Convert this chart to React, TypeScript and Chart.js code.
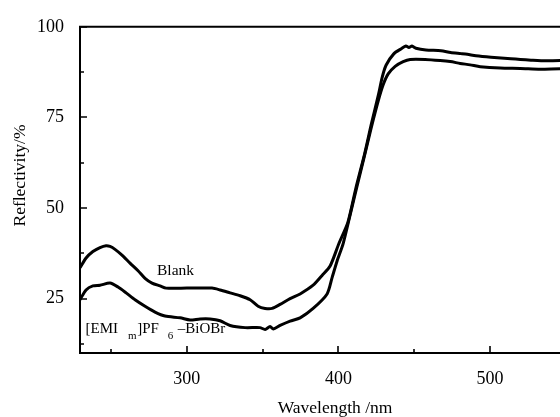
import React, { useEffect, useRef } from "react";
import { Chart, registerables } from "chart.js";

Chart.register(...registerables);

// ---- data ----
const blankWavelength = [
  229.5, 233.5, 238, 242.7, 246.7, 249.3, 252.6, 257.2, 262.5, 267.8, 272.4, 277, 282.3, 286.3, 300, 316.6,
  321.9, 328.5, 335.1, 341.7, 347, 351.6, 356.2, 361.5, 368.1, 374.7, 383.3, 389.2, 394.5, 400.3, 406.2,
  411.5, 417.3, 421.6, 426.5, 428.8, 431.4, 436.6, 441.2, 444.5, 446.5, 448.5, 451.1, 457.7, 467.6, 474,
  480.8, 485, 490.7, 500.6, 513.8, 520, 527, 536.9, 546.8, 553, 560,
];
const blankReflectivity = [
  33.5, 36.2, 38.0, 39.1, 39.6, 39.4, 38.6, 37.0, 34.8, 32.7, 30.6, 29.3, 28.5, 27.9, 27.9, 27.9,
  27.4, 26.6, 25.8, 24.7, 22.9, 22.3, 22.3, 23.4, 25.0, 26.3, 28.7, 31.4, 34.0, 40.2, 46.0,
  55.5, 65.0, 73.0, 81.5, 86.0, 89.4, 92.6, 93.9, 94.7, 94.3, 94.7, 94.1, 93.6, 93.4, 92.9,
  92.6, 92.4, 92.0, 91.6, 91.2, 91.0, 90.8, 90.6, 90.7, 90.4, 90.6,
];
const emiWavelength = [
  229.5, 233.5, 238, 242.7, 249.3, 254.6, 259.9, 265.8, 272.4, 279, 285.6, 295.5, 302.1, 308.7, 315.3,
  321.9, 328.5, 338.4, 348.2, 351.6, 354.9, 357, 361.5, 368.1, 374.7, 383.3, 392.5, 395.8, 399.1, 403.1,
  407.7, 412.3, 417, 421.6, 426.2, 429.5, 432.8, 437.4, 442.7, 447.3, 457.2, 467.1, 473.7, 480.3, 486.9,
  493.5, 506.7, 519.9, 533.1, 546.3, 559.5,
];
const emiReflectivity = [
  24.7, 27.4, 28.5, 28.7, 29.3, 28.2, 26.6, 24.7, 22.9, 21.3, 20.2, 19.7, 19.1, 19.4, 19.4,
  18.9, 17.6, 17.0, 17.0, 16.5, 17.3, 16.6, 17.6, 18.8, 19.7, 22.3, 26.3, 30.8, 35.4, 40.2,
  48.1, 56.1, 64.1, 72.1, 79.5, 84.0, 87.0, 89.1, 90.4, 91.0, 91.0, 90.7, 90.4, 89.9, 89.5,
  89.0, 88.6, 88.5, 88.3, 88.4, 88.3,
];

const xTickValues = [300, 400, 500];
const xMinorTickValues = [250, 350, 450, 550];
const yTickValues = [25, 50, 75, 100];
const yMinorTickValues = [12.5, 37.5, 62.5, 87.5];

const xTitle = "Wavelength /nm";
const yTitle = "Reflectivity/%";
const blankLabel = "Blank";
// "[EMI_m]PF_6–BiOBr" split into normal / subscript pieces
const emiLabelParts: { text: string; sub: boolean; gapAfter: number }[] = [
  { text: "[EMI", sub: false, gapAfter: 10 },
  { text: "m", sub: true, gapAfter: 0.5 },
  { text: "]PF", sub: false, gapAfter: 9 },
  { text: "6", sub: true, gapAfter: 4.5 },
  { text: "–BiOBr", sub: false, gapAfter: 0 },
];
// label anchors in data units
const blankLabelAt = { x: 280.3, y: 31.4 };
const emiLabelAt = { x: 233.2, y: 15.4 };

const FONT = '"Liberation Serif", "Times New Roman", serif';

const framePlugin = {
  id: "frameAndLabels",
  afterDraw(chart: any) {
    const ctx = chart.ctx as CanvasRenderingContext2D;
    const a = chart.chartArea;
    const xs = chart.scales.x;
    const ys = chart.scales.y;
    ctx.save();
    ctx.strokeStyle = "#000";
    ctx.lineWidth = 2;
    ctx.beginPath();
    ctx.moveTo(a.left - 1, a.top);
    ctx.lineTo(a.right, a.top);
    ctx.stroke();

    ctx.lineWidth = 1.6;
    ctx.beginPath();
    for (const v of xTickValues) {
      const p = Math.round(xs.getPixelForValue(v));
      ctx.moveTo(p, a.bottom);
      ctx.lineTo(p, a.bottom - 7);
    }
    for (const v of xMinorTickValues) {
      const p = Math.round(xs.getPixelForValue(v));
      ctx.moveTo(p, a.bottom);
      ctx.lineTo(p, a.bottom - 4);
    }
    for (const v of yTickValues) {
      const p = Math.round(ys.getPixelForValue(v));
      ctx.moveTo(a.left, p);
      ctx.lineTo(a.left + 7, p);
    }
    for (const v of yMinorTickValues) {
      const p = Math.round(ys.getPixelForValue(v));
      ctx.moveTo(a.left, p);
      ctx.lineTo(a.left + 4, p);
    }
    ctx.stroke();

    ctx.fillStyle = "#000";
    ctx.textBaseline = "alphabetic";
    // axis titles
    ctx.font = `17.5px ${FONT}`;
    ctx.textAlign = "center";
    ctx.fillText(xTitle, 335, 413);
    ctx.save();
    ctx.translate(25, 175.5);
    ctx.rotate(-Math.PI / 2);
    ctx.fillText(yTitle, 0, 0);
    ctx.restore();

    // curve labels
    ctx.textAlign = "left";
    ctx.font = `15.5px ${FONT}`;
    ctx.fillText(blankLabel, xs.getPixelForValue(blankLabelAt.x), ys.getPixelForValue(blankLabelAt.y));

    let x = xs.getPixelForValue(emiLabelAt.x);
    const base = ys.getPixelForValue(emiLabelAt.y);
    for (const part of emiLabelParts) {
      ctx.font = part.sub ? `11px ${FONT}` : `15px ${FONT}`;
      ctx.fillText(part.text, x, part.sub ? base + 5.5 : base);
      x += ctx.measureText(part.text).width + part.gapAfter;
    }
    ctx.restore();
  },
};

export default function App() {
  const ref = useRef<HTMLCanvasElement | null>(null);
  useEffect(() => {
    if (!ref.current) return;
    const toPts = (xs: number[], ys: number[]) => xs.map((x, i) => ({ x, y: ys[i] }));
    const chart = new Chart(ref.current, {
      type: "line",
      data: {
        datasets: [
          {
            label: "Blank",
            data: toPts(blankWavelength, blankReflectivity),
            borderColor: "#000",
            borderWidth: 3,
            pointRadius: 0,
            tension: 0.25,
            fill: false,
          },
          {
            label: "[EMIm]PF6-BiOBr",
            data: toPts(emiWavelength, emiReflectivity),
            borderColor: "#000",
            borderWidth: 3,
            pointRadius: 0,
            tension: 0.25,
            fill: false,
          },
        ],
      },
      options: {
        responsive: false,
        animation: false,
        devicePixelRatio: 1,
        layout: { padding: { top: 15, right: 4, left: 0, bottom: 0 } },
        plugins: { legend: { display: false }, tooltip: { enabled: false } },
        scales: {
          x: {
            type: "linear",
            min: 229.5,
            max: 560,
            grid: { display: false, drawTicks: false },
            border: { display: true, color: "#000", width: 2 },
            ticks: { color: "#000", font: { family: FONT, size: 18 }, padding: 15, maxRotation: 0, autoSkip: false },
            afterBuildTicks: (s: any) => {
              s.ticks = xTickValues.map((v) => ({ value: v }));
            },
            afterFit: (s: any) => {
              s.height = 64;
            },
          },
          y: {
            type: "linear",
            min: 10,
            max: 100,
            grid: { display: false, drawTicks: false },
            border: { display: true, color: "#000", width: 2 },
            ticks: { color: "#000", font: { family: FONT, size: 18 }, padding: 16, autoSkip: false },
            afterBuildTicks: (s: any) => {
              s.ticks = yTickValues.map((v) => ({ value: v }));
            },
            afterFit: (s: any) => {
              s.width = 80;
            },
          },
        },
      },
      plugins: [framePlugin],
    } as any);
    return () => chart.destroy();
  }, []);

  return (
    <div
      style={{
        position: "fixed",
        left: 0,
        top: 0,
        width: 560,
        height: 417,
        overflow: "hidden",
        background: "#fff",
      }}
    >
      <canvas ref={ref} width={585} height={417} style={{ display: "block" }} />
    </div>
  );
}
